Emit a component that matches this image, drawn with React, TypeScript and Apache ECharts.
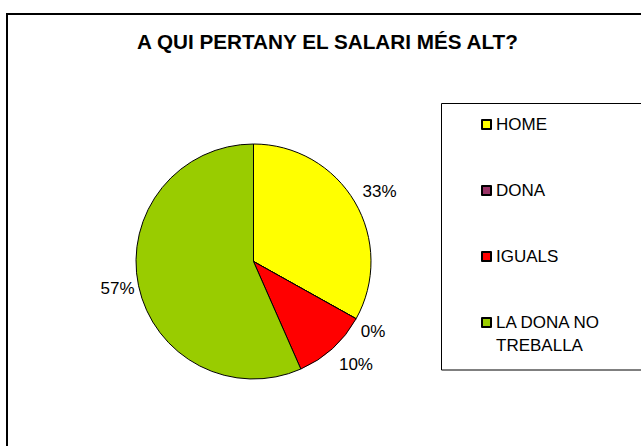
import React, { useEffect, useRef } from "react";
import * as echarts from "echarts";

const titleText = "A QUI PERTANY EL SALARI MÉS ALT?";
const categories = ["HOME", "DONA", "IGUALS", "LA DONA NO TREBALLA"];
const shares = [33.1, 0, 10.3, 56.6];
const colors = ["#FFFF00", "#993366", "#FF0000", "#99CC00"];
// label nudges (style only)
const labelNudge = [
  [1, -9],
  [-2, 12],
  [0, 15],
  [3, 2],
];

const FONT = "'Liberation Sans', Arial, sans-serif";

export default function App() {
  const ref = useRef<HTMLDivElement>(null);
  useEffect(() => {
    if (!ref.current) return;
    const chart = echarts.init(ref.current, undefined, { renderer: "svg" });
    chart.setOption({
      animation: false,
      backgroundColor: "#FFFFFF",
      title: {
        text: titleText,
        left: 137,
        top: 31,
        padding: 0,
        textStyle: { fontFamily: FONT, fontSize: 20.7, fontWeight: "bold", color: "#000" },
      },
      legend: {
        orient: "vertical",
        left: 481,
        top: 67,
        padding: 0,
        itemWidth: 9,
        itemHeight: 9,
        itemGap: -49,
        icon: "rect",
        // keep first text line centred on the marker: 5-line block, first line in the middle
        formatter: (n: string) =>
          n.indexOf("DONA NO ") >= 0
            ? "\n\n" + n.replace("DONA NO ", "DONA NO\n") + "\n"
            : "\n\n" + n + "\n\n",
        textStyle: { fontFamily: FONT, fontSize: 17, color: "#000", lineHeight: 23 },
        data: categories,
      },
      graphic: [
        {
          type: "rect",
          shape: { x: 7, y: 14, width: 800, height: 600 },
          style: { fill: "none", stroke: "#000", lineWidth: 2 },
          silent: true,
        },
        {
          type: "rect",
          shape: { x: 441.5, y: 103.5, width: 400, height: 266.5 },
          style: { fill: "none", stroke: "#000", lineWidth: 1 },
          silent: true,
        },
      ],
      series: [
        {
          type: "pie",
          center: [253.5, 261.5],
          radius: 117.5,
          startAngle: 90,
          clockwise: true,
          avoidLabelOverlap: false,
          percentPrecision: 0,
          minAngle: 0,
          itemStyle: { borderColor: "#000", borderWidth: 1 },
          label: {
            show: true,
            position: "outside",
            formatter: "{d}%",
            fontFamily: FONT,
            fontSize: 17,
            color: "#000",
          },
          labelLine: { show: false, length: 2, length2: 0 },
          labelLayout: (p: any) => {
            const n = labelNudge[p.dataIndex] || [0, 0];
            return { dx: n[0], dy: n[1] };
          },
          emphasis: { disabled: true },
          data: categories.map((c, i) => ({
            name: c,
            value: shares[i],
            itemStyle: { color: colors[i] },
          })),
        },
      ],
    });
    return () => chart.dispose();
  }, []);
  return (
    <div
      ref={ref}
      style={{ position: "fixed", left: 0, top: 0, width: 641, height: 446 }}
    />
  );
}
